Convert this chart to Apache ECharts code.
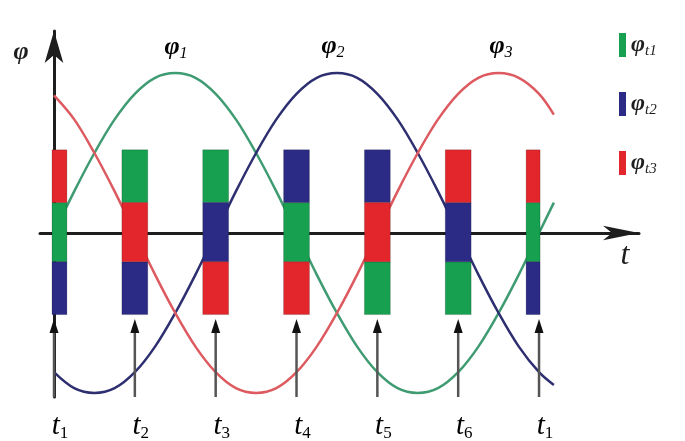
<!DOCTYPE html>
<html>
<head>
<meta charset="utf-8">
<script src="https://cdn.jsdelivr.net/npm/echarts@6/dist/echarts.min.js"></script>
<style>
html, body { margin: 0; padding: 0; background: #fff; }
#main { width: 685px; height: 441px; }
</style>
</head>
<body>
<div id="main"></div>
<script>
// electrical angle (deg) of the sampled curve points
var angles = [0, 15, 30, 45, 60, 75, 90, 105, 120, 135, 150, 165, 180, 195, 210, 225, 240, 255, 270, 285, 300, 315, 330, 345, 360, 371];
var phi1 = [0, 0.26, 0.50, 0.71, 0.87, 0.97, 1, 0.97, 0.87, 0.71, 0.50, 0.26, 0, -0.26, -0.50, -0.71, -0.87, -0.97, -1, -0.97, -0.87, -0.71, -0.50, -0.26, 0, 0.19];
var phi2 = [-0.87, -0.97, -1, -0.97, -0.87, -0.71, -0.50, -0.26, 0, 0.26, 0.50, 0.71, 0.87, 0.97, 1, 0.97, 0.87, 0.71, 0.50, 0.26, 0, -0.26, -0.50, -0.71, -0.87, -0.95];
var phi3 = [0.86, 0.71, 0.50, 0.26, 0, -0.26, -0.50, -0.71, -0.87, -0.97, -1, -0.97, -0.87, -0.71, -0.50, -0.26, 0, 0.26, 0.50, 0.71, 0.87, 0.97, 1, 0.97, 0.87, 0.74];

// switching instants t1..t6, t1
var times = [0, 60, 120, 180, 240, 300, 360];
var timeLabels = ['1', '2', '3', '4', '5', '6', '1'];

// place of each phase in the bar at every instant: 0 top, 1 middle, 2 bottom
var slot1 = [1, 0, 0, 1, 2, 2, 1];
var slot2 = [2, 2, 1, 0, 0, 1, 2];
var slot3 = [0, 1, 2, 2, 1, 0, 0];
var slotEdges = [0.52, 0.19, -0.18, -0.51];

var Y_MIN = -1.025, Y_MAX = 1.2625;
var ARROW_TIP = -0.5375;
var HALF = 9.6;

var serif = "'Liberation Serif', 'DejaVu Serif', serif";
var ink = '#1e1e1e';

function pairs(xs, ys) {
    return xs.map(function (x, i) { return [x, ys[i]]; });
}

function segmentSeries(name, color, slots) {
    return {
        name: name,
        type: 'custom',
        z: 3,
        itemStyle: { color: color },
        data: times.map(function (t, i) { return [t, slots[i]]; }),
        renderItem: function (params, api) {
            var t = api.value(0);
            var s = api.value(1);
            var x0 = Math.max(t - HALF, times[0] - 1.5);
            var x1 = Math.min(t + HALF, times[times.length - 1] + 0.8);
            var p0 = api.coord([x0, slotEdges[s]]);
            var p1 = api.coord([x1, slotEdges[s + 1]]);
            return {
                type: 'rect',
                shape: { x: p0[0], y: p0[1], width: p1[0] - p0[0], height: p1[1] - p0[1] },
                style: { fill: color, stroke: 'rgba(0,0,0,0.18)', lineWidth: 1 }
            };
        }
    };
}

function curveSeries(color, ys) {
    return {
        type: 'line',
        z: 1,
        smooth: 0.35,
        showSymbol: false,
        silent: true,
        data: pairs(angles, ys),
        lineStyle: { color: color, width: 2.5 }
    };
}

var subRich = {
    m: { fontFamily: serif, fontStyle: 'italic', fontWeight: 'bold', fontSize: 26, lineHeight: 30, color: ink },
    s: { fontFamily: serif, fontStyle: 'italic', fontSize: 16, lineHeight: 14, verticalAlign: 'bottom', color: ink }
};

var chartDom = document.getElementById('main');
var myChart = echarts.init(chartDom);
var option = {
    animation: false,
    grid: { left: 40, right: 46, top: 31, bottom: 44 },
    xAxis: {
        type: 'value',
        min: -10.39,
        max: 434.2,
        axisLine: {
            onZero: true,
            symbol: ['none', 'arrow'],
            symbolSize: [11, 36],
            lineStyle: { color: ink, width: 3 }
        },
        axisTick: { show: false },
        axisLabel: { show: false },
        splitLine: { show: false }
    },
    yAxis: {
        type: 'value',
        min: Y_MIN,
        max: Y_MAX,
        axisLine: {
            onZero: true,
            symbol: ['none', 'arrow'],
            symbolSize: [14, 32],
            lineStyle: { color: ink, width: 3 }
        },
        axisTick: { show: false },
        axisLabel: { show: false },
        splitLine: { show: false }
    },
    legend: {
        orient: 'vertical',
        left: 614,
        top: 28,
        itemWidth: 7,
        itemHeight: 24,
        itemGap: 33,
        icon: 'rect',
        data: ['φt1', 'φt2', 'φt3'],
        formatter: function (name) {
            return '{p|' + name.charAt(0) + '}{s|' + name.slice(1) + '}';
        },
        textStyle: {
            rich: {
                p: { fontFamily: serif, fontStyle: 'italic', fontWeight: 'bold', fontSize: 24, lineHeight: 28, color: ink },
                s: { fontFamily: serif, fontStyle: 'italic', fontSize: 15, lineHeight: 12, verticalAlign: 'bottom', color: ink }
            }
        }
    },
    graphic: [
        { type: 'text', x: 21, y: 52, style: { text: 'φ', font: "italic bold 26px " + serif, fill: ink, align: 'center', verticalAlign: 'middle' } },
        { type: 'text', x: 625, y: 256, style: { text: 't', font: "italic 32px " + serif, fill: ink, align: 'center', verticalAlign: 'middle' } },
        { type: 'text', x: 176, y: 47, style: { text: '{m|φ}{s|1}', rich: subRich, align: 'center', verticalAlign: 'middle' } },
        { type: 'text', x: 333, y: 46, style: { text: '{m|φ}{s|2}', rich: subRich, align: 'center', verticalAlign: 'middle' } },
        { type: 'text', x: 501, y: 46, style: { text: '{m|φ}{s|3}', rich: subRich, align: 'center', verticalAlign: 'middle' } }
    ],
    series: [
        curveSeries('#3f9b72', phi1),
        curveSeries('#2d2f70', phi2),
        curveSeries('#dc5a60', phi3),
        segmentSeries('φt1', '#16a050', slot1),
        segmentSeries('φt2', '#2b2b85', slot2),
        segmentSeries('φt3', '#e3262c', slot3),
        {
            type: 'custom',
            z: 4,
            silent: true,
            data: times.map(function (t, i) { return [t, i]; }),
            renderItem: function (params, api) {
                var t = api.value(0);
                var lab = timeLabels[params.dataIndex];
                var pb = api.coord([t, Y_MIN]);
                var pt = api.coord([t, ARROW_TIP]);
                return {
                    type: 'group',
                    children: [
                        { type: 'line', shape: { x1: pb[0], y1: pb[1], x2: pt[0], y2: pt[1] + 10 }, style: { stroke: '#555', lineWidth: 2.5 } },
                        { type: 'polygon', shape: { points: [[pt[0], pt[1]], [pt[0] - 4.5, pt[1] + 14], [pt[0] + 4.5, pt[1] + 14]] }, style: { fill: '#111' } },
                        { type: 'text', x: pt[0] + 6, y: pb[1] + 29, style: { text: '{m|t}{s|' + lab + '}', rich: {
                            m: { fontFamily: serif, fontStyle: 'italic', fontSize: 29, lineHeight: 32, color: ink },
                            s: { fontFamily: serif, fontSize: 17, lineHeight: 14, verticalAlign: 'bottom', color: ink }
                        }, align: 'center', verticalAlign: 'middle' } }
                    ]
                };
            }
        }
    ]
};
myChart.setOption(option);
</script>
</body>
</html>
